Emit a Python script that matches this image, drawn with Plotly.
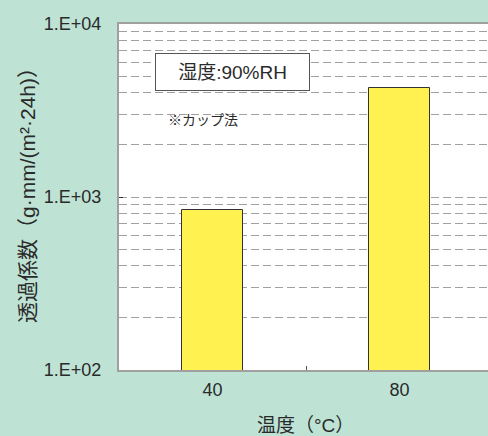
import plotly.graph_objects as go

categories = ["40", "80"]
values = [840, 4270]
y_tickvals = [100, 1000, 10000]
y_ticktext = ["1.E+02", "1.E+03", "1.E+04"]

LATIN = "Liberation Sans, Arial, Noto Sans CJK JP, sans-serif"
BG = "#bee3d5"
L, R, T, B, W, H = 119, 0, 24, 66, 488, 436
PW, PH = W - L - R, H - T - B


def px(x):
    return (x - L) / PW


def py(y):
    return (H - B - y) / PH


fig = go.Figure()
fig.add_trace(go.Bar(
    x=categories, y=values, width=0.33,
    marker=dict(color="#fff250", line=dict(color="#333333", width=1)),
))

grid = dict(gridcolor="#a0a0a0", griddash="8px,4px", gridwidth=1.3)

fig.update_layout(
    width=W, height=H,
    margin=dict(l=L, r=R, t=T, b=B),
    paper_bgcolor=BG, plot_bgcolor="white",
    font=dict(family=LATIN, size=18, color="#2a2a2a"),
    showlegend=False,
    bargap=0,
    xaxis=dict(
        type="category", range=[-0.5, 1.473], automargin=False,
        showgrid=False, showline=True, linecolor="#a0a0a0", linewidth=2,
        mirror=True, ticks="inside", ticklen=4, tickcolor="#555555",
        tickson="boundaries", tickfont=dict(size=18), ticklabelstandoff=2,
    ),
    yaxis=dict(
        type="log", range=[2, 4], automargin=False,
        tickvals=y_tickvals, ticktext=y_ticktext,
        showline=True, linecolor="#a0a0a0", linewidth=2,
        ticks="inside", ticklen=4, tickcolor="#333333",
        tickfont=dict(size=18), ticklabelstandoff=12,
        showgrid=True, **grid,
        minor=dict(dtick="D1", showgrid=True, ticks="", **grid),
        zeroline=False,
    ),
    annotations=[
        dict(text="湿度:90%RH", xref="paper", yref="paper", x=px(155), y=py(72),
             xanchor="left", yanchor="middle", showarrow=False,
             bgcolor="white", bordercolor="#555555", borderwidth=1,
             font=dict(size=19), borderpad=8, width=137, height=20, align="center"),
        dict(text="※カップ法", xref="paper", yref="paper", x=px(166), y=py(120),
             xanchor="left", yanchor="middle", showarrow=False, font=dict(size=14)),
        dict(text="温度（°C）", xref="paper", yref="paper", x=px(305), y=py(425),
             xanchor="center", yanchor="middle", showarrow=False, font=dict(size=19)),
        dict(text="透過係数（g·mm/(m²·24h)）", xref="paper", yref="paper", x=px(27), y=py(190),
             xanchor="center", yanchor="middle", showarrow=False, textangle=-90,
             font=dict(size=21)),
    ],
)

fig.write_html(
    "out.html",
    config={"displayModeBar": False},
    post_script="document.body.style.margin='0';document.body.style.background='%s';" % BG,
)
